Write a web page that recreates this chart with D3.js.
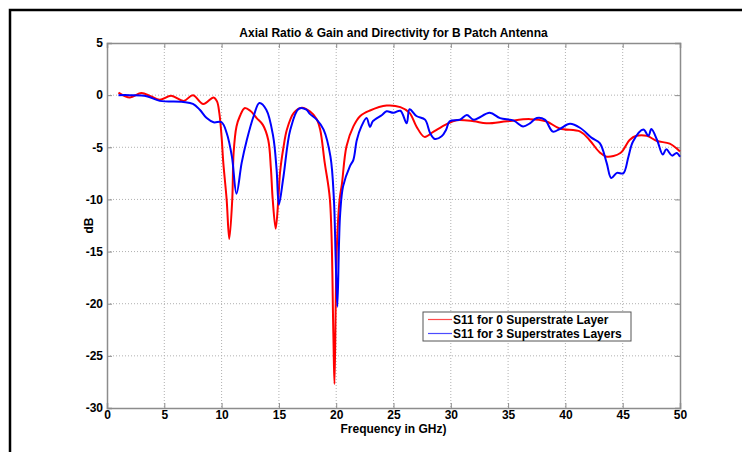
<!DOCTYPE html>
<html><head><meta charset="utf-8">
<script src="https://cdn.jsdelivr.net/npm/d3@7"></script>
<style>body{margin:0;background:#fff}svg{display:block}text{font-family:"Liberation Sans",Arial,sans-serif;font-weight:bold;fill:#000}</style>
</head><body>
<svg id="c" width="742" height="452"></svg>
<script>
const xTicks = [0,5,10,15,20,25,30,35,40,45,50];
const yTicks = [5,0,-5,-10,-15,-20,-25,-30];
const title = "Axial Ratio & Gain and Directivity for B Patch Antenna";
const xLabel = "Frequency in GHz)";
const yLabel = "dB";
const seriesNames = ["S11 for 0 Superstrate Layer","S11 for 3 Superstrates Layers"];
const seriesColors = ["#ff0000","#0000ff"];

const redFreq = [1,2,3,3.8,4.6,5.6,6.7,7.5,8.4,9.3,9.6,9.8,10.0,10.15,10.44,10.67,10.93,11.05,11.3,11.6,12.0,12.5,13.06,13.6,14.07,14.3,14.46,14.72,14.95,15.1,15.4,15.7,16.3,17.0,17.7,18.3,18.6,19.0,19.45,19.75,19.85,20.05,20.3,20.5,20.9,21.5,22.1,22.9,24.4,25.6,26.4,27.0,27.7,28.5,29.6,30.5,32,33.1,34.9,36.9,38.3,39.5,41.3,42.1,43.0,43.6,44.8,45.6,46.2,47.1,48.0,49.1,50];
const redDb = [0.25,-0.22,0.2,-0.1,-0.45,-0.07,-0.55,0,-0.85,-0.22,-0.6,-1.7,-4,-6.5,-10,-13.8,-10,-5.5,-3,-2.0,-1.25,-1.5,-2.2,-2.85,-4.3,-7,-10,-12.8,-10,-7.4,-5,-3.3,-1.7,-1.2,-1.55,-2.3,-3.3,-6.5,-10,-22.8,-27.7,-14.8,-10,-8.5,-4.9,-3.0,-2.0,-1.5,-1.0,-1.15,-1.7,-3,-4.0,-3.5,-2.8,-2.4,-2.5,-2.7,-2.5,-2.3,-2.5,-3.2,-3.5,-4.3,-5.5,-5.9,-5.55,-4.3,-3.9,-3.9,-4.4,-4.65,-5.4];

const blueFreq = [1,2,3.45,4.6,6.65,7.5,8.1,8.7,9.3,10.0,10.45,10.9,11.3,11.75,12.2,12.8,13.3,13.9,14.5,14.8,15.0,15.4,16.0,16.75,17.4,17.7,18.3,18.9,19.5,19.8,19.95,20.1,20.25,20.35,20.6,21.2,21.5,21.8,22.2,22.65,22.95,23.2,24.0,24.4,25.0,25.6,26.15,26.4,27.0,27.75,28.2,28.6,29.2,29.6,29.9,30.8,31.4,32,33.4,34.3,35.5,36.3,36.9,37.5,38.2,38.9,39.5,40.4,41.3,42.3,43.0,43.6,44.0,44.5,45.05,45.5,45.9,46.8,47.25,47.5,48.0,48.5,48.8,49.3,49.7,50];
const blueDb = [0,0,-0.1,-0.55,-0.65,-0.83,-1.4,-2.2,-2.6,-2.6,-3.65,-5.9,-9.45,-6.5,-4.3,-2.0,-0.76,-1.4,-3.95,-7.15,-10.5,-7.8,-3.3,-1.3,-1.4,-1.8,-2.35,-3.3,-5.9,-10,-15.5,-20.3,-14,-11.3,-8.75,-6.8,-6.2,-4.3,-3.0,-2.2,-3.05,-2.5,-1.9,-1.55,-1.7,-1.5,-2.7,-1.35,-2.0,-2.35,-3.65,-4.2,-3.95,-3.3,-2.5,-2.35,-1.9,-2.35,-1.7,-2.2,-2.45,-3.0,-2.7,-2.2,-2.35,-3.5,-3.25,-2.75,-3.15,-4.1,-4.6,-6.5,-7.95,-7.45,-7.5,-5.9,-4.45,-3.3,-3.9,-3.25,-4.3,-5.7,-5.2,-5.8,-5.55,-5.9];

const FS = 12;
const svg = d3.select("#c");
const L = 107, R = 680, T = 43, B = 408;
const x = d3.scaleLinear().domain([0,50]).range([L,R]);
const y = d3.scaleLinear().domain([-30,5]).range([B,T]);

// outer frame
svg.append("path").attr("d","M10,452 L10,10 L742,10").attr("fill","none").attr("stroke","#000").attr("stroke-width",2.5);

// grid
const g = svg.append("g");
g.selectAll(".gx").data(xTicks.slice(1,-1)).join("line")
  .attr("x1",d=>x(d)).attr("x2",d=>x(d)).attr("y1",T).attr("y2",B)
  .attr("stroke","#b0b0b0").attr("stroke-width",1).attr("stroke-dasharray","1,2");
g.selectAll(".gy").data(yTicks.slice(1,-1)).join("line")
  .attr("y1",d=>y(d)).attr("y2",d=>y(d)).attr("x1",L).attr("x2",R)
  .attr("stroke","#b0b0b0").attr("stroke-width",1).attr("stroke-dasharray","1,2");

// axes via d3
const fmt = d => String(d);
const axB = d3.axisBottom(x).tickValues(xTicks).tickSize(-5).tickPadding(2).tickFormat(fmt);
const axL = d3.axisLeft(y).tickValues(yTicks).tickSize(-5).tickPadding(4).tickFormat(fmt);
const axT = d3.axisTop(x).tickValues(xTicks).tickSize(-5).tickFormat("");
const axR = d3.axisRight(y).tickValues(yTicks).tickSize(-5).tickFormat("");
function style(sel){
  sel.select(".domain").attr("stroke","#8c8c8c").attr("stroke-width",1.5);
  sel.selectAll(".tick line").attr("stroke","#8c8c8c");
  sel.selectAll("text").attr("font-size",FS).attr("font-family","'Liberation Sans',Arial,sans-serif").attr("font-weight","bold").attr("fill","#000");
}
svg.append("g").attr("transform",`translate(0,${B})`).call(axB).call(style);
svg.append("g").attr("transform",`translate(${L},0)`).call(axL).call(style);
svg.append("g").attr("transform",`translate(0,${T})`).call(axT).call(style);
svg.append("g").attr("transform",`translate(${R},0)`).call(axR).call(style);

// series
const line = d3.line().x(d=>x(d[0])).y(d=>y(d[1])).curve(d3.curveCatmullRom.alpha(0.5));
const redData = redFreq.map((f,i)=>[f,redDb[i]]);
const blueData = blueFreq.map((f,i)=>[f,blueDb[i]]);
svg.append("path").datum(redData).attr("d",line).attr("fill","none").attr("stroke",seriesColors[0]).attr("stroke-width",2);
svg.append("path").datum(blueData).attr("d",line).attr("fill","none").attr("stroke",seriesColors[1]).attr("stroke-width",2);

// title and labels
svg.append("text").attr("x",(L+R)/2).attr("y",37).attr("text-anchor","middle").attr("font-size",FS).text(title);
svg.append("text").attr("x",(L+R)/2).attr("y",433).attr("text-anchor","middle").attr("font-size",FS).text(xLabel);
svg.append("text").attr("transform",`translate(93,${(T+B)/2}) rotate(-90)`).attr("text-anchor","middle").attr("font-size",FS).text(yLabel);

// legend
const lg = svg.append("g");
lg.append("rect").attr("x",423).attr("y",312).attr("width",208).attr("height",29).attr("fill","#fff").attr("stroke","#555").attr("stroke-width",1);
seriesNames.forEach((n,i)=>{
  const yy = 319.5 + i*14;
  lg.append("line").attr("x1",428).attr("x2",452).attr("y1",yy).attr("y2",yy).attr("stroke",seriesColors[i]).attr("stroke-width",1.2).attr("opacity",0.7);
  lg.append("text").attr("x",453).attr("y",yy+4.5).attr("font-size",FS).text(n);
});
</script>
</body></html>
